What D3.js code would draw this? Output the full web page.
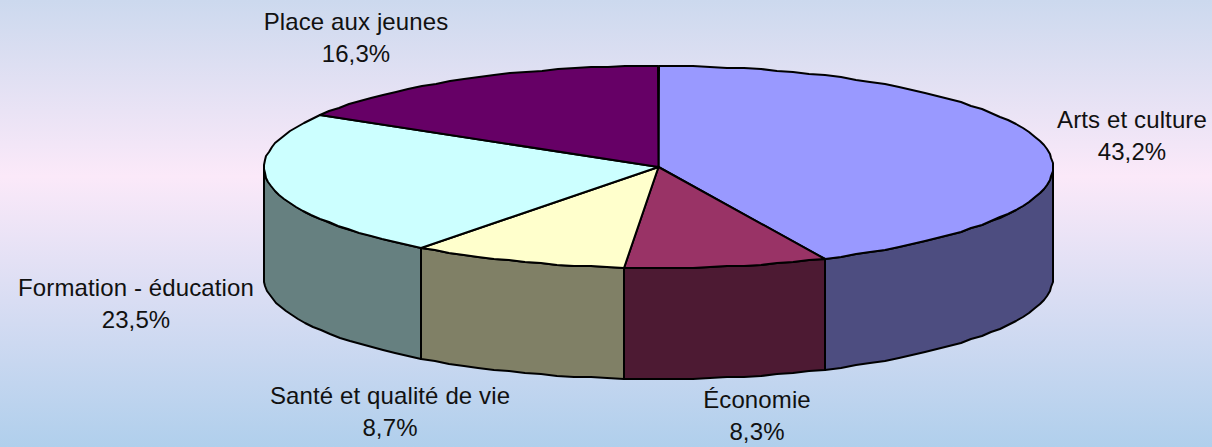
<!DOCTYPE html>
<html>
<head>
<meta charset="utf-8">
<script src="https://cdn.jsdelivr.net/npm/d3@7"></script>
<style>
  html, body { margin: 0; padding: 0; overflow: hidden; }
  text { font-family: "Liberation Sans", Arial, sans-serif; font-size: 24px; letter-spacing: 0.12px; fill: #111; }
</style>
</head>
<body>
<div id="holder"></div>
<script>
// chart data, shares estimated a little past the printed decimal
const categories = ["Arts et culture", "Économie", "Santé et qualité de vie", "Formation - éducation", "Place aux jeunes"];
const shares = [43.16, 8.3, 8.7, 23.5, 16.34];
const topColors = ["#9999ff", "#993366", "#ffffcc", "#ccffff", "#660066"];
const sideColors = ["#4d4d80", "#4d1a33", "#808066", "#668080", "#330033"];

const width = 1212, height = 447;

const svg = d3.select("#holder").append("svg")
  .attr("width", width)
  .attr("height", height)
  .style("display", "block");

// page background
const grad = svg.append("defs").append("linearGradient")
  .attr("id", "bg").attr("x1", 0).attr("y1", 0).attr("x2", 0).attr("y2", 1);
grad.append("stop").attr("offset", "0%").attr("stop-color", "#ccd9ee");
grad.append("stop").attr("offset", "39.5%").attr("stop-color", "#fbe9f9");
grad.append("stop").attr("offset", "100%").attr("stop-color", "#b0cfec");
svg.append("rect").attr("width", width).attr("height", height).attr("fill", "url(#bg)");

// the tilted disc: unit circle to screen
const x = d3.scaleLinear().domain([-1, 1]).range([264, 1053]);
const y = d3.scaleLinear().domain([-1, 1]).range([268, 66]);
const depth = 111;

// the original snaps slice edges to whole degrees
const deg = Math.PI / 180;
const snap = a => Math.round(a / deg) * deg;
const pie = d3.pie().sort(null).value(d => d)(shares).map(d => ({
  startAngle: snap(d.startAngle),
  endAngle: snap(d.endAngle)
}));

// points along the rim between two angles (clockwise from the top)
// coarse steps and whole pixels, the original rim is a bit jagged
function rim(a0, a1, dy) {
  const n = Math.max(2, Math.ceil(Math.abs(a1 - a0) / (2.5 * deg)));
  return d3.range(n + 1).map(i => {
    const a = a0 + (a1 - a0) * i / n;
    return [Math.round(x(Math.sin(a))), Math.round(y(Math.cos(a))) + dy];
  });
}
const line = d3.line();

// side walls, only the front half shows
const front = pie.map((d, i) => ({
  a0: Math.max(d.startAngle, Math.PI / 2),
  a1: Math.min(d.endAngle, 3 * Math.PI / 2),
  i: i
})).filter(d => d.a1 > d.a0);

svg.append("g").selectAll("path")
  .data(front)
  .enter()
  .append("path")
  .attr("d", d => line(rim(d.a0, d.a1, 0).concat(rim(d.a1, d.a0, depth))) + "Z")
  .attr("fill", d => sideColors[d.i])
  .attr("stroke", "#000")
  .attr("stroke-width", 2)
  .attr("stroke-linejoin", "round");

// top slices
svg.append("g").selectAll("path")
  .data(pie)
  .enter()
  .append("path")
  .attr("d", d => line([[x(0), y(0)]].concat(rim(d.startAngle, d.endAngle, 0))) + "Z")
  .attr("fill", (d, i) => topColors[i])
  .attr("stroke", "#000")
  .attr("stroke-width", 2)
  .attr("stroke-linejoin", "round");

// labels
const labelX = [1132, 757, 390, 136, 356];
const labelY = [128, 408, 404, 296, 30];
const fmt = v => v.toFixed(1).replace(".", ",") + "%";

const labels = svg.append("g").selectAll("g")
  .data(categories)
  .enter()
  .append("g")
  .attr("transform", (d, i) => "translate(" + labelX[i] + "," + labelY[i] + ")");
labels.append("text").attr("text-anchor", "middle").text(d => d);
labels.append("text").attr("text-anchor", "middle").attr("y", 32).text((d, i) => fmt(shares[i]));
</script>
</body>
</html>
